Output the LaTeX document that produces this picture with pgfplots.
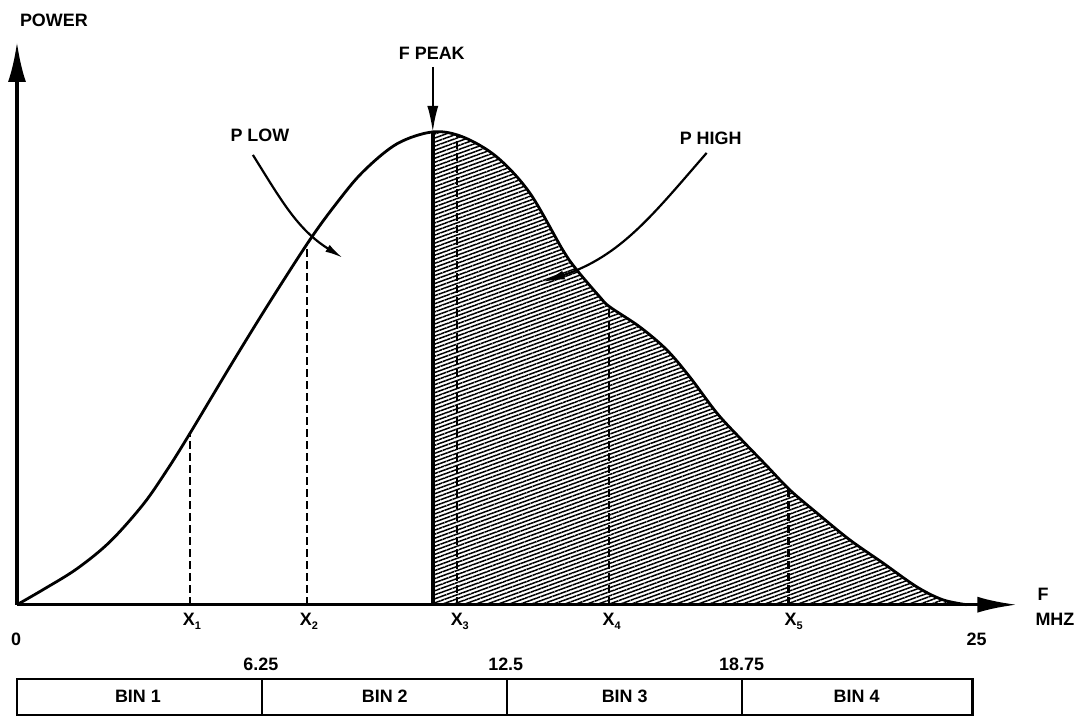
\documentclass[border=0pt]{standalone}
\usepackage{fontspec}
\setmainfont{Liberation Sans}
\usepackage{pgfplots}
\pgfplotsset{compat=1.18}
\usepgfplotslibrary{fillbetween}
\usetikzlibrary{arrows.meta,patterns.meta}

\newcommand{\Xs}[1]{X\raisebox{-0.45ex}{\fontsize{5.5}{6}\selectfont #1}}

\begin{document}
\begin{tikzpicture}[x=0.5bp,y=0.5bp,font=\fontsize{9}{10}\selectfont\bfseries]
\begin{axis}[
  at={(8.5bp,56bp)}, anchor=origin,
  scale only axis, width=500.4bp, height=281.5bp,
  xmin=0, xmax=26.2, ymin=0, ymax=563,
  hide axis, clip=false,
]
% power spectrum curve
\addplot[name path=curve, black, line width=1.4bp, smooth, tension=0.55] coordinates {
 (0,0) (0.681,15) (1.571,36) (2.435,63) (3.298,100) (3.900,133) (4.476,168) (5.654,243)
 (6.623,303) (7.670,365) (8.377,402) (9.058,433) (9.948,461) (10.890,473)
 (11.675,468) (12.565,448) (13.429,412) (14.293,355) (14.660,335) (15.262,308)
 (15.524,298) (16.309,278) (17.016,255) (17.618,228) (18.325,192) (18.927,167)
 (19.634,139) (20.236,115) (20.942,92) (21.806,65) (22.670,42) (23.560,18)
 (24.241,5) (24.869,0)
};
\addplot[name path=base, draw=none] coordinates {(0,0) (26,0)};
\addplot[draw=none, pattern={Lines[angle=20,distance=1.9bp,line width=0.75bp]}]
  fill between[of=curve and base, soft clip={domain=10.89:25}];
% peak line
\addplot[black, line width=2bp] coordinates {(10.89,0) (10.89,473)};
% dashed verticals
\addplot[black, line width=1.1bp, dash pattern=on 4bp off 2bp] coordinates {(4.529,0) (4.529,170)};
\addplot[black, line width=1.1bp, dash pattern=on 4bp off 2bp] coordinates {(7.592,0) (7.592,360)};
\addplot[black, line width=1.1bp, dash pattern=on 4bp off 2bp] coordinates {(11.518,0) (11.518,469)};
\addplot[black, line width=1.1bp, dash pattern=on 4bp off 2bp] coordinates {(15.497,0) (15.497,298)};
\addplot[black, line width=1.1bp, dash pattern=on 4bp off 2bp] coordinates {(20.209,0) (20.209,116)};
% axes
\addplot[black, line width=1.8bp, -{Latex[length=20bp,width=8bp]}] coordinates {(0,0) (26.2,0)};
\addplot[black, line width=1.8bp, -{Latex[length=20bp,width=9bp]}] coordinates {(0,0) (0,563)};
\end{axis}
% text labels (pixel coordinates, y flipped)
\node[anchor=west] at (13,697) {POWER};
\node at (432,664) {F PEAK};
\draw[line width=1bp, -{Latex[length=13bp,width=5.5bp]}] (433,650) -- (433,585);
\node at (260,582) {P LOW};
\draw[line width=1.1bp, -{Latex[length=9bp,width=4bp]}] (253,562) to[out=-58,in=148] (343,459);
\node at (711,579) {P HIGH};
\draw[line width=1.1bp, -{Latex[length=11bp,width=4.5bp]}] (707,564) to[out=229,in=18] (543,435);
\node at (192,95) {\Xs{1}};
\node at (309,95) {\Xs{2}};
\node at (460,95) {\Xs{3}};
\node at (612,95) {\Xs{4}};
\node at (794,95) {\Xs{5}};
\node at (16,77) {0};
\node at (977,77) {25};
\node[anchor=west] at (1031,122) {F};
\node[anchor=west] at (1029,97) {MHZ};
% bins
\node at (261,52) {6.25};
\node at (506,52) {12.5};
\node at (742,52) {18.75};
\draw[line width=1.1bp] (17,2) rectangle (973,38);
\draw[line width=1.1bp] (262,2) -- (262,38) (507,2) -- (507,38) (742,2) -- (742,38);
\node at (138,20) {BIN 1};
\node at (385,20) {BIN 2};
\node at (625,20) {BIN 3};
\node at (857,20) {BIN 4};
\path (0,0) rectangle (1081,717);
\end{tikzpicture}
\end{document}
